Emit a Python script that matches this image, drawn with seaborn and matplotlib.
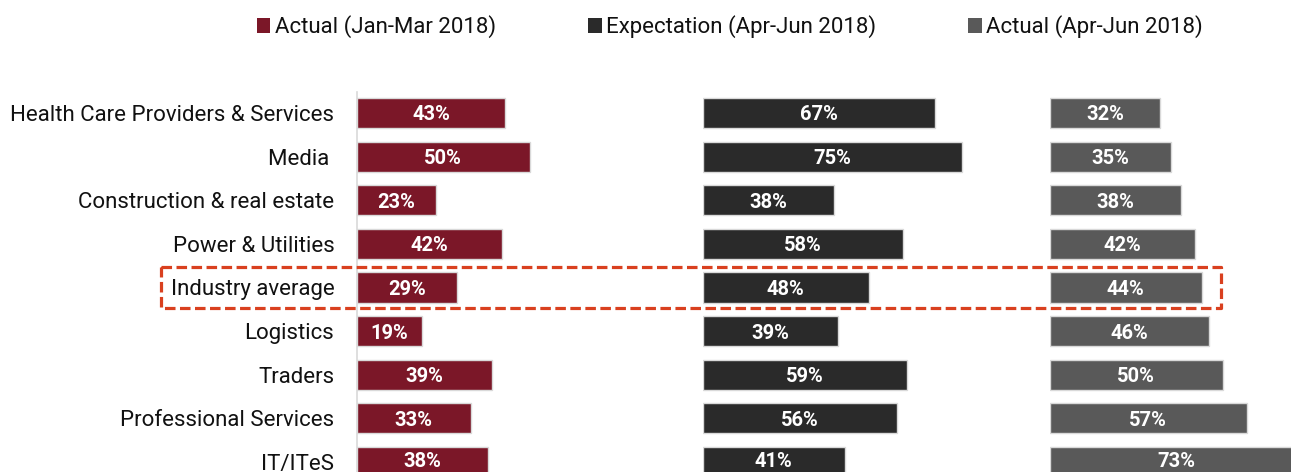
import matplotlib
matplotlib.use("Agg")
import matplotlib.pyplot as plt
import seaborn as sns
from matplotlib.patches import Patch, Rectangle

categories = ["Health Care Providers & Services", "Media ", "Construction & real estate",
              "Power & Utilities", "Industry average", "Logistics", "Traders",
              "Professional Services", "IT/ITeS"]
actual_jan_mar = [43, 50, 23, 42, 29, 19, 39, 33, 38]
expect_apr_jun = [67, 75, 38, 58, 48, 39, 59, 56, 41]
actual_apr_jun = [32, 35, 38, 42, 44, 46, 50, 57, 73]
series_names = ["Actual (Jan-Mar 2018)", "Expectation (Apr-Jun 2018)", "Actual (Apr-Jun 2018)"]
colors = ["#7B1728", "#2A2A2A", "#595959"]

sns.set_theme(style="white")
plt.rcParams["font.family"] = ["Roboto", "DejaVu Sans"]

W, H = 1291, 472
fig = plt.figure(figsize=(W / 100, H / 100), dpi=100)

px_per_unit = 3.465
x0 = [356.5, 702.5, 1049.5]
row0, row_step = 113, 43.625
ytop = -row0 / row_step
ybot = (H - row0) / row_step

axes = []
for i, (vals, col) in enumerate(zip([actual_jan_mar, expect_apr_jun, actual_apr_jun], colors)):
    ax = fig.add_axes([x0[i] / W, 0, 100 * px_per_unit / W, 1])
    ax.patch.set_alpha(0)
    sns.barplot(x=vals, y=categories, orient="h", ax=ax, color=col, saturation=1,
                width=0.69, edgecolor="#d9d9d9", linewidth=1)
    ax.set_xlim(0, 100)
    ax.set_ylim(ybot, ytop)
    texts = ax.bar_label(ax.containers[0], labels=[f"{v}%" for v in vals], label_type="center",
                         color="white", fontweight="bold", fontsize=14.5)
    for t in texts:
        t.set_verticalalignment("center_baseline")
    ax.set_xlabel("")
    ax.set_ylabel("")
    ax.set_xticks([])
    for s in ["top", "right", "bottom"]:
        ax.spines[s].set_visible(False)
    if i == 0:
        ax.spines["left"].set_color("#d9d9d9")
        ax.spines["left"].set_linewidth(1.2)
        ax.spines["left"].set_bounds(-0.48, ybot)
        ax.tick_params(axis="y", length=0, pad=16, labelsize=16, labelcolor="#111111")
    else:
        ax.spines["left"].set_visible(False)
        ax.set_yticks([])
    axes.append(ax)

# highlight box around Industry average row
ax1 = axes[0]
ia = categories.index("Industry average")
box = Rectangle((-56.3, ia - 0.46), 305.9, 0.92, transform=ax1.transData,
                fill=False, edgecolor="#D9401F", linewidth=2.3,
                linestyle=(0, (3.3, 1.4)), joinstyle="round", clip_on=False)
fig.add_artist(box)

handles = [Patch(facecolor=c, edgecolor="none") for c in colors]
fig.legend(handles, series_names, loc="center", bbox_to_anchor=(730 / W, 1 - 27 / H),
           ncol=3, frameon=False, fontsize=16, handlelength=0.6, handleheight=0.6,
           handletextpad=0.2, columnspacing=4.15, labelcolor="#111111")

fig.savefig("out.png", dpi=100)
